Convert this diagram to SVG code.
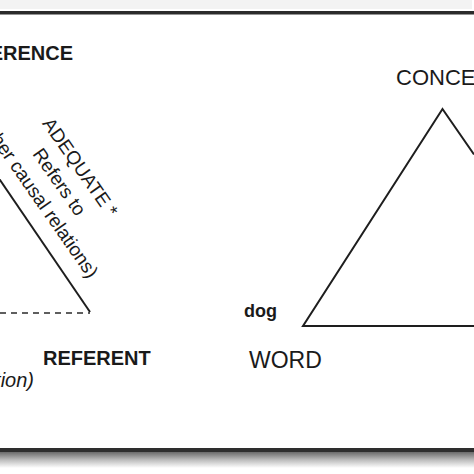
<svg xmlns="http://www.w3.org/2000/svg" width="474" height="474" viewBox="0 0 474 474">
  <defs>
    <linearGradient id="shadow" x1="0" y1="0" x2="0" y2="1">
      <stop offset="0" stop-color="#6a6a6a"/>
      <stop offset="0.5" stop-color="#bdbdbd"/>
      <stop offset="1" stop-color="#ffffff"/>
    </linearGradient>
  </defs>
  <style>
    .bold { font-family: "Liberation Sans", Arial, sans-serif; font-weight: bold; fill: #1a1a1a; }
    .reg { font-family: "Liberation Sans", Arial, sans-serif; fill: #1a1a1a; }
    .ital { font-family: "Liberation Sans", Arial, sans-serif; font-style: italic; fill: #1a1a1a; }
    .edge { fill: none; stroke: #1e1e1e; stroke-width: 2; stroke-linejoin: miter; }
    .dash { fill: none; stroke: #2a2a2a; stroke-width: 1.6; stroke-dasharray: 6 5; }
  </style>
  <rect x="0" y="0" width="474" height="474" fill="#ffffff"/>
  <rect x="0" y="0" width="472" height="9" fill="#f3f3f3"/>
  <rect x="0" y="11" width="474" height="3.5" fill="#2b2b2b"/>
  <rect x="0" y="448" width="474" height="4" fill="#2e2e2e"/>
  <rect x="0" y="452" width="474" height="16" fill="url(#shadow)"/>

  <g id="connectors">
    <line x1="-2" y1="177" x2="90" y2="312" class="edge" stroke-width="1.8"/>
    <line x1="0" y1="313" x2="90" y2="313" class="dash"/>
    <polyline points="474,154.5 442.5,109 303,326 474,326" class="edge"/>
  </g>

  <g id="reference">
    <text x="73" y="60" class="bold" font-size="20" text-anchor="end">REFERENCE</text>
  </g>
  <g id="adequate-label" transform="translate(75,171) rotate(55)">
    <text x="0" y="0" class="reg" font-size="19" text-anchor="middle">ADEQUATE *</text>
    <text x="0" y="25.5" class="reg" font-size="19" text-anchor="middle">Refers to</text>
    <text x="0" y="51" class="reg" font-size="19" text-anchor="middle">(other causal relations)</text>
  </g>
  <g id="referent">
    <text x="43" y="365" class="bold" font-size="20">REFERENT</text>
  </g>
  <g id="relation-label">
    <text x="34" y="387" class="ital" font-size="20" text-anchor="end">(an imputed relation)</text>
  </g>
  <g id="concept">
    <text x="396" y="85" class="reg" font-size="22">CONCEPT</text>
  </g>
  <g id="dog">
    <text x="244" y="317" class="bold" font-size="18">dog</text>
  </g>
  <g id="word">
    <text x="249" y="368" class="reg" font-size="23">WORD</text>
  </g>
</svg>
